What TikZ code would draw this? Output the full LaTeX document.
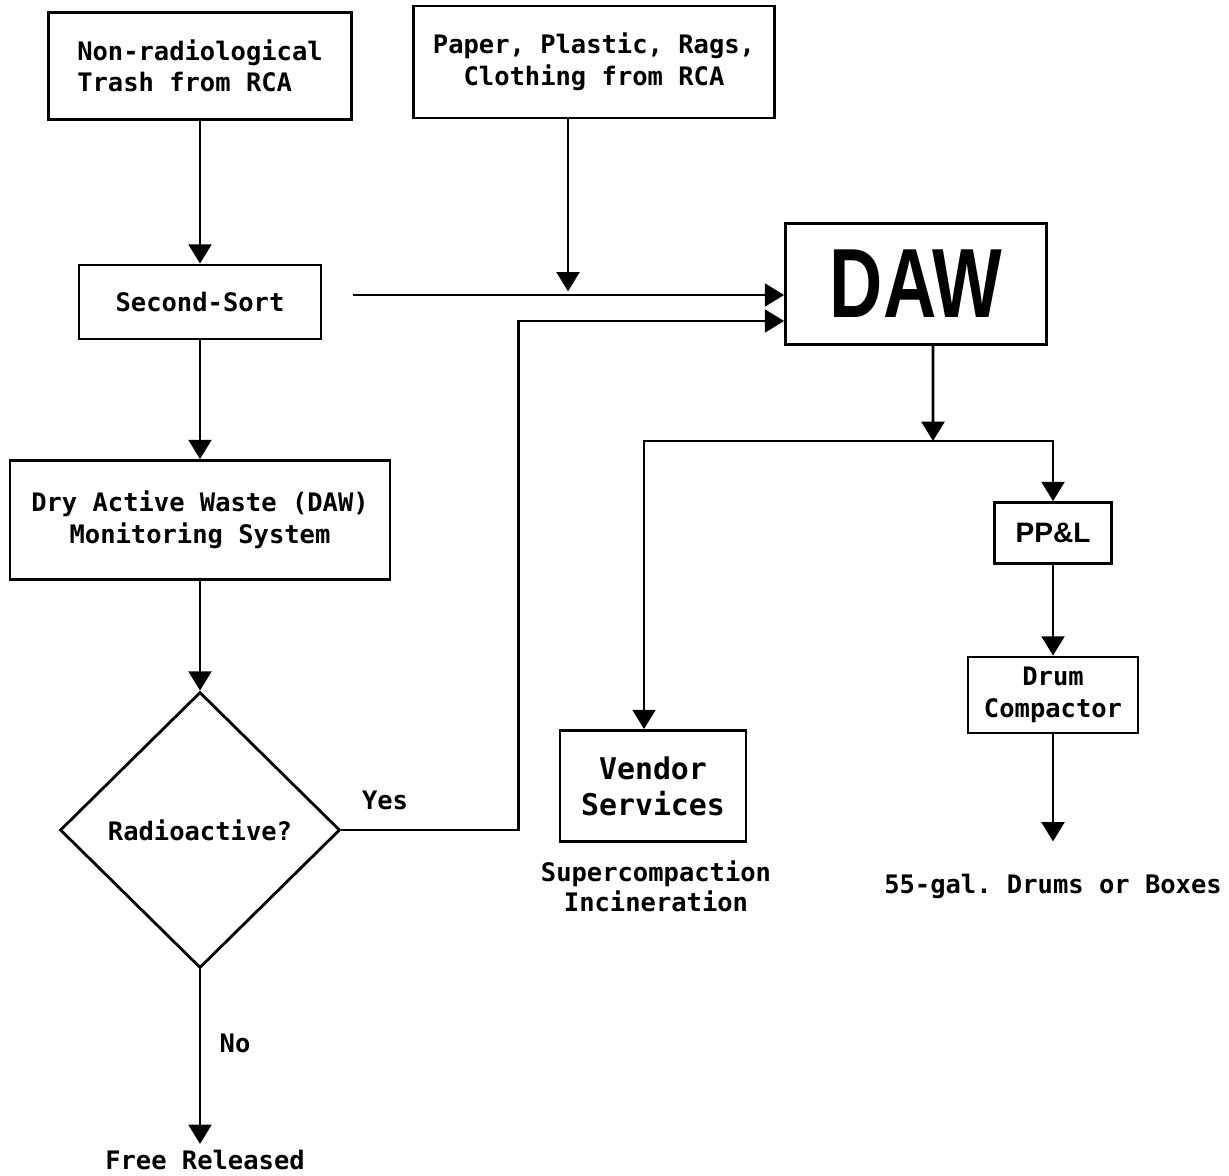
\documentclass[tikz,border=0pt]{standalone}
\usepackage{fontspec}
\setmonofont{DejaVu Sans Mono}
\newfontfamily\dawfont{Liberation Sans}
\usetikzlibrary{shapes.geometric,arrows.meta,positioning,calc}

\begin{document}
\begin{tikzpicture}[x=0.02cm, y=-0.02cm,
  font=\ttfamily\bfseries\fontsize{14.5}{18}\selectfont,
  box/.style={draw, line width=1.6pt, inner sep=0pt, align=center},
  arr/.style={-{Triangle[width=13pt,length=11pt]}, line width=1.6pt},
  line/.style={line width=1.6pt}]
  \useasboundingbox (0,0) rectangle (1229,1175);
  % inputs
  \node[box, align=left, minimum width=6.06cm, minimum height=2.14cm] (trash) at (200,66)
    {Non-radiological\\Trash from RCA};
  \node[box, minimum width=7.22cm, minimum height=2.24cm] (rags) at (594,62)
    {Paper, Plastic, Rags,\\Clothing from RCA};
  \node[box, minimum width=4.84cm, minimum height=1.48cm] (sort) at (200,302) {Second-Sort};
  \node[box, minimum width=5.22cm, minimum height=2.42cm] (daw) at (916,284)
    {\dawfont\bfseries\fontsize{56}{56}\selectfont\scalebox{0.75}[1]{DAW}};
  \node[box, minimum width=7.6cm, minimum height=2.38cm] (monitor) at (200,520)
    {Dry Active Waste (DAW)\\Monitoring System};
  % decision
  \node[draw, diamond, line width=1.6pt, inner sep=0pt, minimum width=5.6cm,
    minimum height=5.52cm] (radio) at (200,830) {Radioactive?};
  \node (yes) at (385,800) {Yes};
  \node (no) at (235,1043) {No};
  \node (free) at (205,1160) {Free Released};
  % outputs
  \node[box, font=\ttfamily\bfseries\fontsize{17}{20.5}\selectfont,
    minimum width=3.72cm, minimum height=2.22cm] (vendor) at (653,786) {Vendor\\Services};
  \node[align=center, font=\ttfamily\bfseries\fontsize{14.5}{17}\selectfont] (supercomp) at (656,886)
    {Supercompaction\\Incineration};
  \node[box, minimum width=2.34cm, minimum height=1.22cm] (ppl) at (1053,533)
    {\dawfont\fontsize{16}{16}\selectfont PP\&L};
  \node[box, minimum width=3.4cm, minimum height=1.52cm] (drum) at (1053,695)
    {Drum\\Compactor};
  \node (drums) at (1053,886) {55-gal. Drums or Boxes};
  \coordinate (split) at (933,441);

  % connectors
  \draw[arr] (trash) -- (sort);
  \draw[arr] (sort) -- (monitor);
  \draw[arr] (monitor) -- (radio);
  \draw[arr] (radio.south) -- (radio.south |- free.north);
  \draw[arr, shorten <=0.62cm] (sort.east) ++(0,-7) coordinate (s1) -- (s1 -| daw.west);
  \draw[arr] ([xshift=-0.52cm]rags.south) -- ++(0,172);
  \draw[arr] (radio.east) -- ++(177,0) |- ([yshift=-0.74cm]daw.west);
  \draw[arr] ([xshift=0.34cm]daw.south) -- (split);
  \draw[line] ([xshift=-0.18cm]vendor.north |- split) -- (ppl.north |- split);
  \draw[arr] (split) -| ([xshift=-0.18cm]vendor.north);
  \draw[arr] (split) -| (ppl.north);
  \draw[arr] (ppl) -- (drum);
  \draw[arr] (drum.south) -- ++(0,107);
\end{tikzpicture}
\end{document}
